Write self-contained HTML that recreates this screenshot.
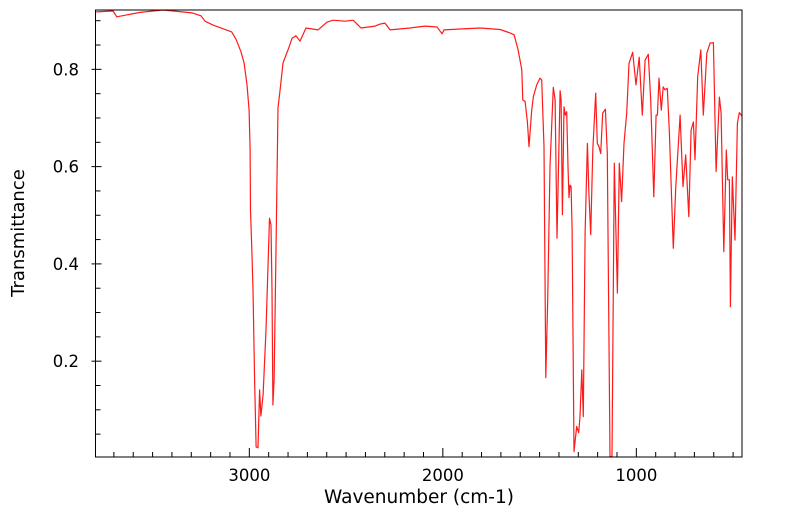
<!DOCTYPE html>
<html><head><meta charset="utf-8"><style>
html,body{margin:0;padding:0;background:#fff;}
svg{display:block;font-family:"DejaVu Sans","Liberation Sans",sans-serif;}
</style></head><body>
<svg id="chart" width="799" height="516" viewBox="0 0 799 516">
<g id="axes"></g>
<path id="spectrum" fill="none" stroke="#ff1a1a" stroke-width="1.2" stroke-linejoin="round"/>
<rect x="95.5" y="10" width="646.5" height="447" fill="none" stroke="#000" stroke-width="1"/>
<text x="419" y="503" text-anchor="middle" font-size="18.5">Wavenumber (cm-1)</text>
<text transform="translate(24,233) rotate(-90)" text-anchor="middle" font-size="18">Transmittance</text>
</svg>
<script>
const wavenumbers=[3792,3704,3685,3565,3446,3296,3250,3229,3188,3091,3069,3043,3027,3012,3001,2996,2994,2986,2981,2973,2965,2955,2947,2940,2929,2914,2896,2888,2883,2878,2872,2862,2852,2841,2826,2800,2779,2759,2738,2707,2645,2599,2567,2505,2464,2438,2423,2350,2325,2299,2273,2170,2092,2030,2004,1994,1911,1808,1704,1653,1632,1611,1592,1587,1575,1563,1555,1541,1532,1515,1498,1489,1477,1468,1458,1446,1429,1420,1410,1394,1389,1382,1374,1367,1360,1353,1348,1343,1337,1332,1322,1308,1298,1291,1282,1274,1265,1253,1245,1236,1225,1210,1202,1193,1184,1174,1160,1150,1136,1126,1114,1098,1088,1076,1064,1050,1038,1019,1002,985,969,955,938,926,910,898,891,883,871,861,852,840,829,809,796,774,759,745,729,717,705,697,683,667,654,636,619,602,588,571,562,548,535,528,519,514,504,490,478,468,454];
const transmittance=[0.918,0.920,0.908,0.917,0.922,0.916,0.910,0.899,0.891,0.877,0.862,0.836,0.813,0.768,0.716,0.634,0.511,0.418,0.346,0.162,0.024,0.022,0.141,0.087,0.131,0.264,0.494,0.480,0.346,0.110,0.162,0.429,0.721,0.758,0.813,0.840,0.864,0.869,0.858,0.885,0.881,0.897,0.901,0.899,0.901,0.891,0.885,0.889,0.893,0.895,0.881,0.885,0.889,0.887,0.873,0.881,0.883,0.885,0.882,0.875,0.871,0.840,0.799,0.737,0.734,0.692,0.641,0.716,0.744,0.768,0.782,0.778,0.641,0.166,0.326,0.600,0.763,0.737,0.453,0.756,0.737,0.501,0.723,0.706,0.713,0.600,0.536,0.562,0.559,0.470,0.014,0.066,0.053,0.086,0.182,0.086,0.464,0.648,0.546,0.460,0.634,0.751,0.648,0.641,0.627,0.710,0.718,0.627,0.004,0.004,0.607,0.340,0.607,0.528,0.648,0.710,0.812,0.835,0.768,0.825,0.706,0.819,0.831,0.737,0.538,0.706,0.706,0.782,0.716,0.764,0.758,0.761,0.669,0.432,0.559,0.706,0.559,0.624,0.497,0.675,0.692,0.614,0.785,0.840,0.706,0.833,0.854,0.855,0.590,0.743,0.710,0.425,0.634,0.573,0.573,0.312,0.579,0.449,0.689,0.711,0.704];
const xTickLabels=[3000,2000,1000];
const yTickLabels=[0.2,0.4,0.6,0.8];
const X0=95.5,X1=742,Y0=10,Y1=457,WMAX=3795,WMIN=454,TMIN=0.003,TMAX=0.922;
function xs(w){return X0+(WMAX-w)/(WMAX-WMIN)*(X1-X0);}
function ys(t){return Y1-(t-TMIN)/(TMAX-TMIN)*(Y1-Y0);}
const NS="http://www.w3.org/2000/svg";
const axes=document.getElementById('axes');
function ln(x1,y1,x2,y2,name){const l=document.createElementNS(NS,'line');
l.setAttribute('x1',x1);l.setAttribute('y1',y1);l.setAttribute('x2',x2);l.setAttribute('y2',y2);
l.setAttribute('stroke','#000');l.setAttribute('stroke-width','1');


axes.appendChild(l);}
function tx(x,y,s,anchor,name){const t=document.createElementNS(NS,'text');
t.setAttribute('x',x);t.setAttribute('y',y);t.setAttribute('text-anchor',anchor);t.setAttribute('font-size','16.5');t.textContent=s;


axes.appendChild(t);}
for(let w=3700;w>=500;w-=100){const x=xs(w);
 if(w%1000===0) ln(x,Y1+0.5,x,Y1-9,'x-major-tick'); else ln(x,Y1,x,Y1-5,'x-minor-tick');}
xTickLabels.forEach(v=>tx(xs(v),481,String(v),'middle','x-tick-label'));
for(let k=1;k<=18;k++){const t=k*0.05;const y=ys(t);
 if(k%4===0) ln(X0-4,y,X0+6,y,'y-major-tick'); else ln(X0,y,X0+5,y,'y-minor-tick');}
yTickLabels.forEach(v=>tx(79,ys(v)+6,v.toFixed(1),'end','y-tick-label'));
let d='';
for(let i=0;i<wavenumbers.length;i++){d+=(i?'L':'M')+xs(wavenumbers[i]).toFixed(1)+','+ys(transmittance[i]).toFixed(1);}
document.getElementById('spectrum').setAttribute('d',d);
</script>
</body></html>
